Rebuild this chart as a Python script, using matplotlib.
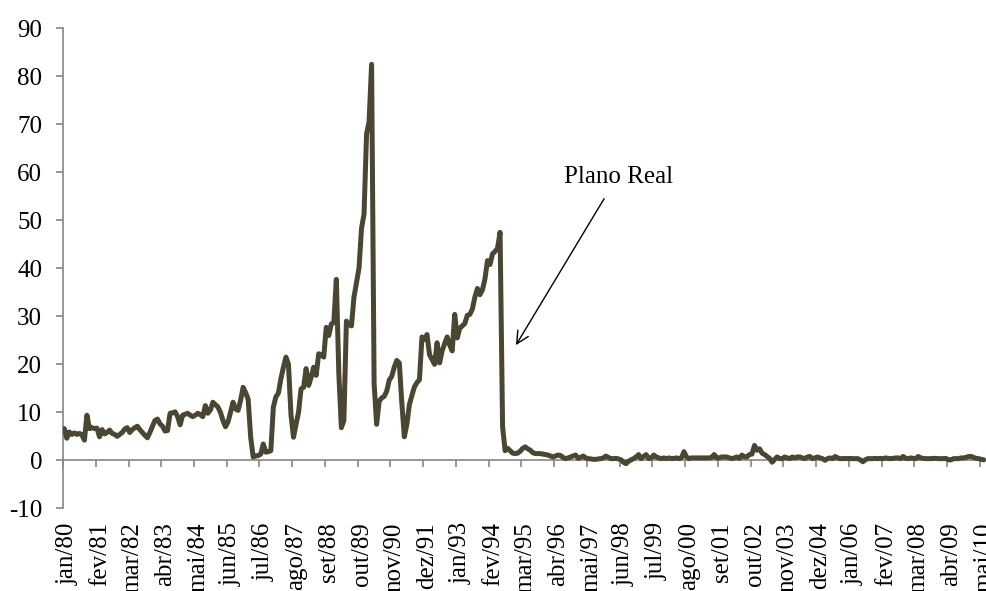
import matplotlib.pyplot as plt
import numpy as np

plt.rcParams['font.family'] = ['Liberation Serif', 'DejaVu Serif']
plt.rcParams['axes.unicode_minus'] = False

# inflação mensal (%), jan/80 em diante
inf_1980 = [6.6, 4.6, 5.9, 5.4, 5.7, 5.4, 5.6, 5.3, 4.2, 9.4, 6.6, 6.8]
inf_1981 = [6.6, 6.7, 4.9, 6.4, 5.5, 5.8, 6.3, 5.6, 5.4, 5.0, 5.4, 5.8]
inf_1982 = [6.5, 6.8, 5.8, 6.4, 6.8, 7.1, 6.4, 5.8, 5.2, 4.7, 5.8, 7.1]
inf_1983 = [8.3, 8.6, 7.6, 7.1, 6.1, 6.2, 9.8, 9.9, 10.1, 9.1, 7.4, 9.4]
inf_1984 = [9.6, 9.8, 9.4, 9.1, 9.4, 9.8, 9.5, 9.1, 11.4, 9.8, 10.5, 12.1]
inf_1985 = [11.6, 11.1, 10.0, 8.3, 7.0, 8.0, 10.0, 12.1, 10.7, 10.4, 12.5, 15.2]
inf_1986 = [14.1, 12.7, 4.8, 0.7, 0.9, 1.0, 1.3, 3.4, 1.7, 1.8, 2.0, 11.1]
inf_1987 = [13.2, 14.0, 17.0, 19.4, 21.5, 20.0, 9.5, 4.8, 7.5, 10.0, 14.9, 15.2]
inf_1988 = [19.1, 15.6, 17.3, 19.4, 17.7, 22.2, 22.0, 21.5, 27.7, 26.0, 28.4, 28.7]
inf_1989 = [37.7, 18.0, 6.8, 8.3, 29.0, 28.3, 28.0, 34.0, 37.0, 40.0, 48.3, 51.3]
inf_1990 = [68.0, 70.5, 82.5, 16.0, 7.5, 12.3, 13.0, 13.3, 14.4, 16.7, 17.5, 19.4]
inf_1991 = [20.8, 20.3, 12.0, 4.9, 7.5, 11.6, 13.5, 15.3, 16.2, 16.8, 25.7, 25.2]
inf_1992 = [26.2, 22.0, 21.0, 20.0, 24.5, 20.3, 22.8, 24.3, 25.7, 24.0, 22.8, 30.4]
inf_1993 = [25.5, 27.5, 28.0, 28.5, 30.2, 30.4, 31.5, 34.0, 35.8, 34.5, 35.5, 37.8]
inf_1994 = [41.6, 40.8, 43.0, 43.5, 44.2, 47.5, 7.0, 2.0, 2.5, 2.0, 1.5, 1.4]
inf_1995 = [1.5, 1.9, 2.5, 2.8, 2.4, 2.1, 1.6, 1.4, 1.4, 1.4, 1.3, 1.2]
inf_1996 = [1.1, 0.9, 0.7, 0.9, 1.1, 1.0, 0.6, 0.35, 0.5, 0.7, 0.9, 1.1]
inf_1997 = [0.4, 0.6, 0.9, 0.5, 0.35, 0.3, 0.2, 0.2, 0.3, 0.35, 0.5, 0.9]
inf_1998 = [0.6, 0.35, 0.35, 0.4, 0.3, 0.1, -0.4, -0.7, -0.2, 0.1, 0.35, 0.7]
inf_1999 = [1.2, 0.35, 0.8, 1.2, 0.35, 0.5, 1.1, 0.7, 0.5, 0.35, 0.5, 0.35]
inf_2000 = [0.5, 0.35, 0.4, 0.5, 0.35, 0.5, 1.8, 0.7, 0.35, 0.5, 0.5, 0.5]
inf_2001 = [0.5, 0.5, 0.5, 0.5, 0.5, 0.6, 1.2, 0.5, 0.5, 0.7, 0.7, 0.7]
inf_2002 = [0.5, 0.35, 0.5, 0.7, 0.4, 1.1, 0.7, 0.7, 1.2, 1.3, 3.1, 2.1]
inf_2003 = [2.4, 1.5, 1.2, 0.8, 0.4, -0.4, 0.2, 0.7, 0.35, 0.35, 0.7, 0.5]
inf_2004 = [0.35, 0.7, 0.5, 0.7, 0.7, 0.5, 0.35, 0.7, 0.8, 0.35, 0.5, 0.7]
inf_2005 = [0.5, 0.35, 0.0, 0.35, 0.5, 0.35, 0.8, 0.5, 0.35, 0.35, 0.4, 0.35]
inf_2006 = [0.4, 0.35, 0.35, 0.35, 0.1, -0.3, 0.1, 0.35, 0.35, 0.35, 0.4, 0.35]
inf_2007 = [0.4, 0.35, 0.5, 0.4, 0.35, 0.4, 0.5, 0.5, 0.35, 0.8, 0.4, 0.35]
inf_2008 = [0.5, 0.4, 0.35, 0.8, 0.5, 0.4, 0.35, 0.35, 0.35, 0.4, 0.4, 0.35]
inf_2009 = [0.35, 0.35, 0.4, 0.1, 0.1, 0.35, 0.35, 0.35, 0.5, 0.5, 0.6, 0.8]
inf_2010 = [0.8, 0.6, 0.4, 0.35, 0.2, 0.1]

serie = (inf_1980 + inf_1981 + inf_1982 + inf_1983 + inf_1984 + inf_1985 +
         inf_1986 + inf_1987 + inf_1988 + inf_1989 + inf_1990 + inf_1991 +
         inf_1992 + inf_1993 + inf_1994 + inf_1995 + inf_1996 + inf_1997 +
         inf_1998 + inf_1999 + inf_2000 + inf_2001 + inf_2002 + inf_2003 +
         inf_2004 + inf_2005 + inf_2006 + inf_2007 + inf_2008 + inf_2009 +
         inf_2010)
meses = np.arange(len(serie))

rotulos_x = ["jan/80", "fev/81", "mar/82", "abr/83", "mai/84", "jun/85",
             "jul/86", "ago/87", "set/88", "out/89", "nov/90", "dez/91",
             "jan/93", "fev/94", "mar/95", "abr/96", "mai/97", "jun/98",
             "jul/99", "ago/00", "set/01", "out/02", "nov/03", "dez/04",
             "jan/06", "fev/07", "mar/08", "abr/09", "mai/10"]
pos_rotulos = np.arange(len(rotulos_x)) * 13

cinza = '#868686'

fig = plt.figure(figsize=(9.86, 5.91), dpi=100)
ax = fig.add_axes([0.0639, 0.1399, 0.9361, 0.8122])

ax.plot(meses, serie, color='#4b4631', lw=3.6, solid_joinstyle='round',
        solid_capstyle='round', zorder=3)

ax.set_xlim(-0.5, 365.9)
ax.set_ylim(-10, 90)
ax.set_yticks(range(-10, 91, 10))
ax.set_yticklabels([str(v) for v in range(-10, 91, 10)])

# eixo horizontal cruza em zero, rótulos embaixo
ax.spines['bottom'].set_position(('data', 0))
ax.spines['top'].set_visible(False)
ax.spines['right'].set_visible(False)
for lado in ['bottom', 'left']:
    ax.spines[lado].set_color(cinza)
    ax.spines[lado].set_linewidth(1.2)
ax.set_xticks(pos_rotulos - 0.5)
ax.set_xticklabels([''] * len(pos_rotulos))
ax.tick_params(axis='both', direction='out', length=5, width=1.2, color=cinza)
ax.tick_params(axis='y', labelsize=18, pad=10)

sec = ax.secondary_xaxis('bottom')
sec.set_xticks(pos_rotulos + 1.2, labels=rotulos_x, rotation=90)
sec.tick_params(length=0, pad=10, labelsize=18)
sec.spines['bottom'].set_visible(False)

# anotação do Plano Real
ax.annotate('', xy=(179.3, 24.0), xytext=(214.3, 54.5),
            arrowprops=dict(arrowstyle='->', color='black', lw=1.0,
                            mutation_scale=22, shrinkA=0, shrinkB=0))
ax.text(220.2, 59.1, 'Plano Real', fontsize=18, ha='center', va='center')

fig.savefig('out.png', dpi=100)
